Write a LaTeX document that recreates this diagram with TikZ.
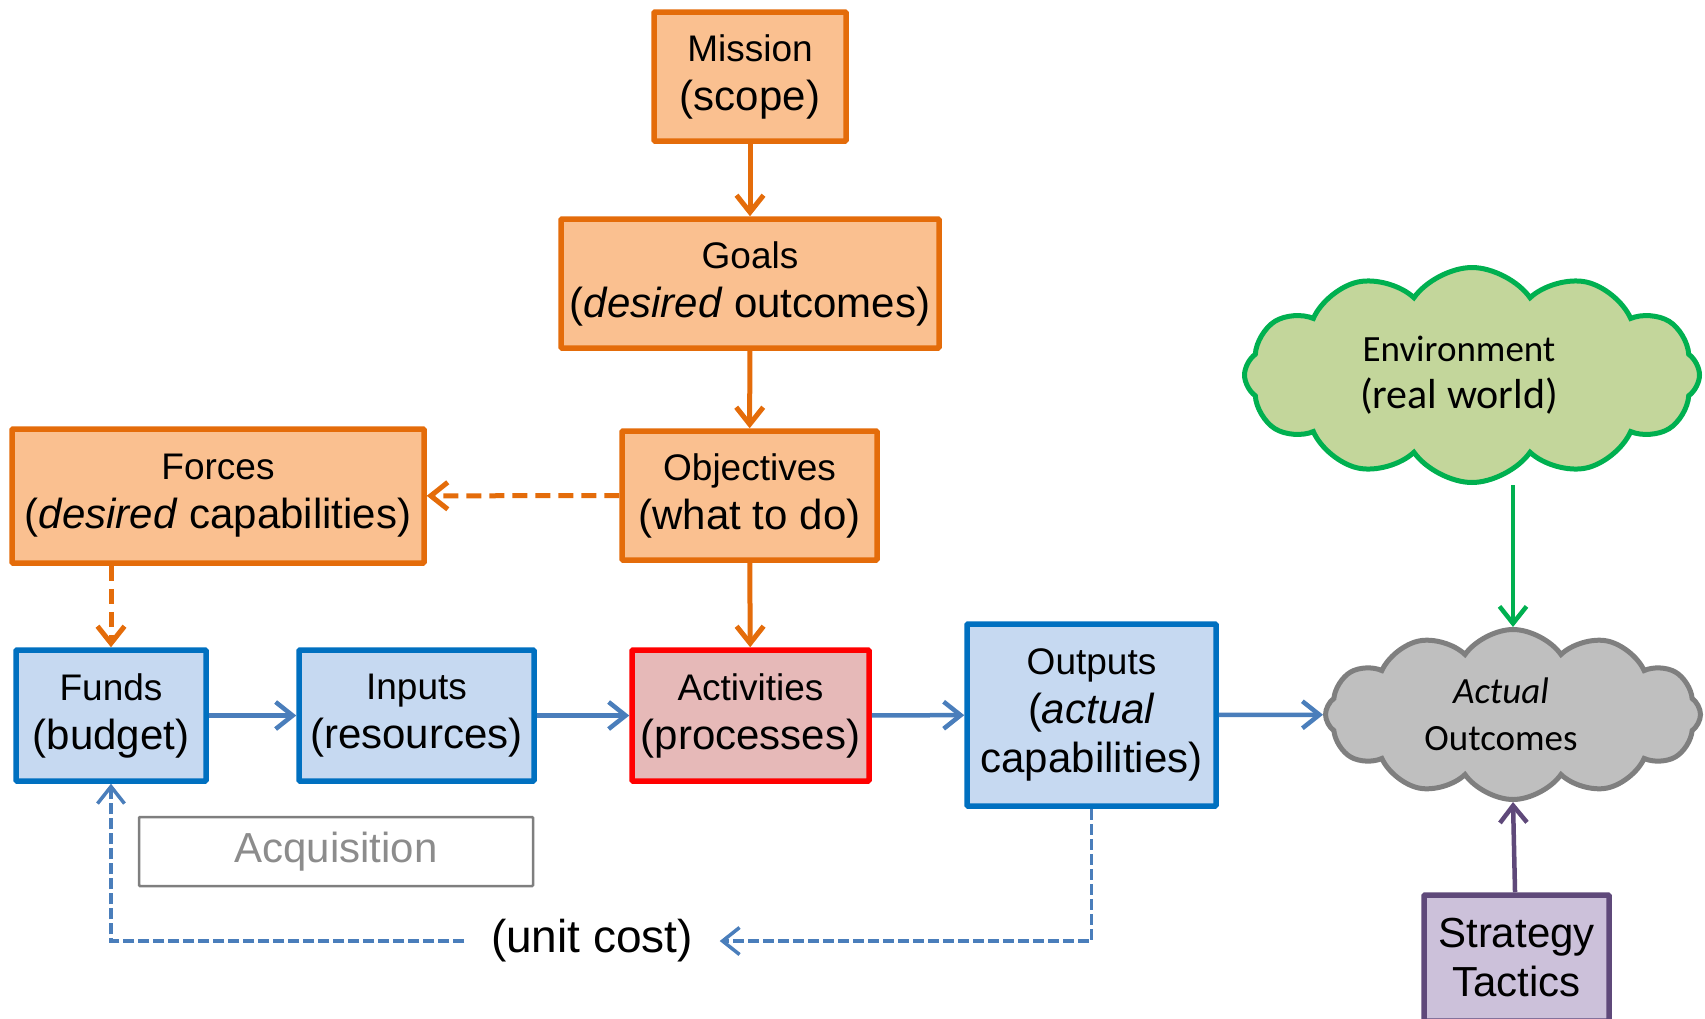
\documentclass[tikz,border=0pt]{standalone}
\usepackage{fontspec}
\setmainfont{Liberation Sans}
\newfontfamily\cloudfont{Carlito}
\usepackage{tikz}
\usetikzlibrary{arrows.meta,shapes.symbols}

\definecolor{orgfill}{HTML}{FAC090}
\definecolor{orgline}{HTML}{E46C0A}
\definecolor{bluefill}{HTML}{C6D9F1}
\definecolor{blueline}{HTML}{0070C0}
\definecolor{bluearrow}{HTML}{4A7EBB}
\definecolor{redfill}{HTML}{E6B9B8}
\definecolor{greenfill}{HTML}{C3D69B}
\definecolor{greenline}{HTML}{00B050}
\definecolor{greyfill}{HTML}{BFBFBF}
\definecolor{greyline}{HTML}{7F7F7F}
\definecolor{acqtext}{HTML}{8C8C8C}
\definecolor{purplefill}{HTML}{CCC1DA}
\definecolor{purpleline}{HTML}{5F497A}

\newcommand{\firstline}[1]{{\fontsize{37}{49}\selectfont #1}}

\begin{document}
\begin{tikzpicture}[x=1pt,y=-1pt]
		\useasboundingbox (0,0) rectangle (1705,1018);

		% orange chain
		\begin{scope}[every node/.style={rectangle,draw=orgline,fill=orgfill,line width=5.5pt,rounded corners=1pt,
		              align=center,inner sep=0pt,minimum height=129pt,font=\fontsize{42}{49}\selectfont}]
		    \node[minimum width=192pt] (mis) at (750,76.5) {\firstline{Mission}\\(scope)};
		    \node[minimum width=378pt] (goal) at (750,283.5) {\firstline{Goals}\\(\textit{desired} outcomes)};
		    \node[minimum width=255pt] (obj) at (749.5,495.5) {\firstline{Objectives}\\(what to do)};
		    \node[minimum width=412pt,minimum height=134pt] (frc) at (218,496) {\firstline{Forces}\\(\textit{desired} capabilities)};
		\end{scope}

		% blue row
		\begin{scope}[every node/.style={rectangle,draw=blueline,fill=bluefill,line width=5.5pt,rounded corners=1pt,
		              align=center,inner sep=0pt,minimum height=131pt,font=\fontsize{42}{49}\selectfont}]
		    \node[minimum width=190pt] (fund) at (111,715.5) {\firstline{Funds}\\(budget)};
		    \node[minimum width=235pt] (inp) at (416.5,715.5) {\firstline{Inputs}\\(resources)};
		    \node[minimum width=237pt,draw=red,fill=redfill] (act) at (750.5,715.5) {\firstline{Activities}\\(processes)};
		    \node[minimum width=249pt,minimum height=182pt] (out) at (1091.5,715) {\firstline{Outputs}\\(\textit{actual}\\capabilities)};
		    \node[minimum width=185pt,minimum height=126pt,draw=purpleline,fill=purplefill] (strat) at (1516.5,958) {Strategy\\Tactics};
		    \node[minimum width=394pt,minimum height=69pt,draw=greyline,fill=none,line width=2.5pt,text=acqtext] (acq) at (336,851.5) {Acquisition};
		    \node[draw=none,fill=none,inner xsep=24pt,font=\fontsize{46}{52}\selectfont] (cost) at (592,941) {(unit cost)};
		\end{scope}

		% clouds
		\begin{scope}[every node/.style={cloud,cloud puffs=12,cloud puff arc=110,aspect=2.1,line width=5pt,align=center,
		              inner sep=0pt,font=\cloudfont\fontsize{37}{47}\selectfont}]
		    \node[draw=greenline,fill=greenfill,minimum width=455pt,minimum height=215pt] (env) at (1472,375)
		        {Environment\kern26pt\\{\fontsize{42}{47}\selectfont(real world)}\kern26pt};
		    \node[draw=greyline,fill=greyfill,minimum width=375pt,minimum height=170pt] (res) at (1513,714.5)
		        {\textit{Actual}\kern24pt\\Outcomes\kern24pt};
		\end{scope}

		% connectors
		\begin{scope}[>={Straight Barb[length=17pt,width=27pt]},line width=5pt,
		              every edge/.style={draw=orgline}]
		    \path (mis) edge[->] (goal);
		    \path (goal) edge[->] (obj);
		    \path (obj) edge[->] (act);
		    \path (obj) edge[->,dash pattern=on 15pt off 8pt] (frc);
		    \path (frc.south -| fund.north) edge[->,dash pattern=on 15pt off 8pt] (fund);
		\end{scope}

		\begin{scope}[>={Straight Barb[length=17pt,width=27pt]},line width=4.5pt,
		              every edge/.style={draw=bluearrow}]
		    \path (fund) edge[->] (inp);
		    \path (inp) edge[->] (act);
		    \path (act) edge[->] (out);
		    \path (out) edge[->] (res);
		    \draw[bluearrow,line width=3.5pt,dash pattern=on 11pt off 4pt,->] (out.south) |- (cost.east);
		    \draw[bluearrow,line width=3.5pt,dash pattern=on 11pt off 4pt,->] (cost.west) -| (fund.south);
		    \path (env.south -| res.north) edge[->,draw=greenline] (res.north);
		    \path (strat) edge[->,draw=purpleline] (res.south);
		\end{scope}
\end{tikzpicture}
\end{document}
